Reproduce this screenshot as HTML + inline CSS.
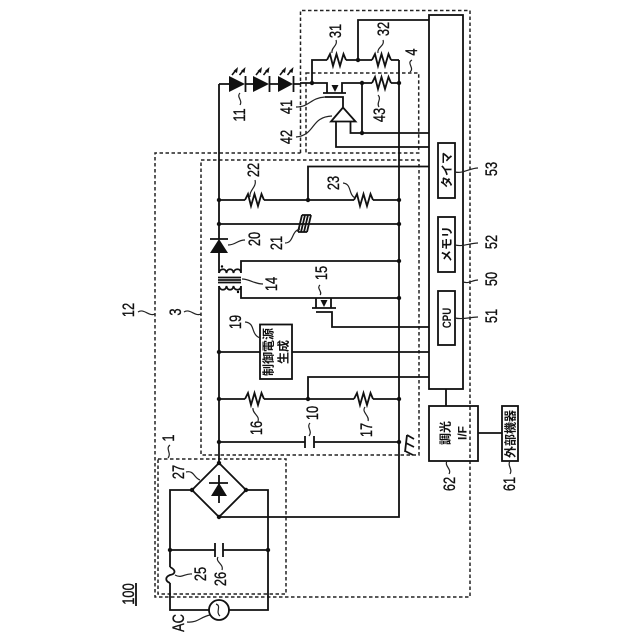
<!DOCTYPE html>
<html><head><meta charset="utf-8"><style>
html,body{margin:0;padding:0;background:#fff}
svg{display:block}
.w{fill:none;stroke:#111;stroke-width:1.8}
.d{fill:none;stroke:#222;stroke-width:1.5;stroke-dasharray:3.5 2.5}
.l{fill:none;stroke:#222;stroke-width:1.2}
text{font-family:"Liberation Sans","Noto Sans CJK JP",sans-serif;fill:#111;text-anchor:middle}
.n text{font-size:16.5px;stroke:#111;stroke-width:.35}
.j{font-size:12px;font-weight:bold}
</style></head><body>
<svg width="640" height="640" viewBox="0 0 640 640" xmlns="http://www.w3.org/2000/svg">
<defs>
<polyline id="r" class="w" points="0,0 3,-6 6,6 9.5,-6 13,6 16.5,-6 19,0"/>
<g id="ar"><path d="M0,0 L4,-5 M7.500,0 L11.500,-5" stroke="#111" stroke-width="1.6"/><path d="M6,-8 L1.500,-4 L5,-2Z M13.500,-8 L9,-4 L12.500,-2Z" fill="#111"/></g>
</defs>
<rect width="640" height="640" fill="#fff"/>
<!-- dashed -->
<path class="d" d="M300.5,153 V10.5 H470 V597 H155 V153 H300.5"/>
<rect class="d" x="306" y="73" width="112.7" height="80"/>
<rect class="d" x="201" y="160" width="218" height="295"/>
<rect class="d" x="158" y="459" width="128" height="135"/>
<!-- main wires -->
<path class="w" d="M219,84 V239 M219,253 V273"/>
<path class="w" d="M219,84 H229 M245,84 H253 M269,84 H278 M293,84 H300 M300,83 H327 V93 M342,93 V83 H372 M391,83 H399"/>
<path class="w" d="M399,60 V517 H219"/>
<path class="w" d="M219,286 V462"/>
<!-- LEDs -->
<path d="M229,76 L245,84 L229,92Z M253,76 L269,84 L253,92Z M278,76 L293,84 L278,92Z" fill="#111"/>
<path class="w" d="M245.5,76 V92 M269.5,76 V92 M293.5,76 V92"/>
<use href="#ar" x="232" y="75"/><use href="#ar" x="256" y="75"/><use href="#ar" x="280" y="75"/>
<!-- R31 R32 R43 -->
<path class="w" d="M312,83 V60 H327 M346,60 H372 M391,60 H399 M358,60 V20 H429"/>
<use href="#r" x="327" y="60"/><use href="#r" x="372" y="60"/><use href="#r" x="372" y="83"/>
<!-- mosfet 41 -->
<path class="w" d="M323,93 H346 M325,97 H343 V107"/>
<path d="M331.500,85 H338.500 L335,92Z" fill="#111"/>
<!-- amp 42 -->
<path class="w" d="M343,107.5 L331,121.500 H355.500Z"/>
<path class="w" d="M336,122 V147 H429 M350.500,122 V133 H429 M362,83 V133"/>
<!-- row 22/23 -->
<path class="w" d="M219,200 H245 M264,200 H354 M373,200 H399 M308,200 V166.500 H429"/>
<use href="#r" x="245" y="200"/><use href="#r" x="354" y="200"/>
<!-- row 21 -->
<path class="w" d="M219,224 H399"/>
<path class="w" d="M302,215 H311 M298,232 H307 M298,232 L302,215 M301,232 L305,215 M304,232 L308,215 M307,232 L311,215" stroke-width="1.2"/>
<!-- diode 20 -->
<path d="M219,239 L210,253 H228Z" fill="#111"/>
<path class="w" d="M210,239 H228"/>
<!-- transformer -->
<path class="w" d="M219,273 C220,268 226,268 226.500,273 C227,268 233,268 233.500,273 C234,268 241,268 241,273 V261 H399" stroke-width="1.6"/>
<path class="w" d="M218,277.500 H241 M218,280 H241 M218,282.500 H241" stroke-width="1.2"/>
<path class="w" d="M219,286 C220,291 226,291 226.500,286 C227,291 233,291 233.500,286 C234,291 241,291 241,286 V298 H399" stroke-width="1.6"/>
<circle cx="222" cy="266.500" r="1.200"/><circle cx="238" cy="292" r="1.200"/>
<!-- mosfet 15 -->
<path class="w" d="M316,298 V308 M331,298 V308 M312,308 H336 M316,312 H332 V327 H429"/>
<path d="M320.500,300 H327.500 L324,307Z" fill="#111"/>
<!-- box19 row -->
<path class="w" d="M219,352 H260 M292,352 H429"/>
<rect class="w" x="260" y="324.500" width="32" height="54.500"/>
<!-- row 16/17 -->
<path class="w" d="M219,399 H245 M264,399 H354 M373,399 H399 M308,399 V377 H429"/>
<use href="#r" x="245" y="399"/><use href="#r" x="354" y="399"/>
<!-- row cap 10 -->
<path class="w" d="M219,442 H305 M314,442 H399 M305,436 V448 M314,436 V448"/>
<path class="w" d="M407,435 L405,452 M407,435 L414,439 M406,443 L414,447 M405,451 L413,455" stroke-width="1.5"/>
<!-- bridge -->
<path class="w" d="M219,463 L246,490 L219,517 L192,490Z"/>
<path class="w" d="M219,475 V503 M209,483 H228"/>
<path d="M219,483 L211,496 H227Z" fill="#111"/>
<path class="w" d="M192,490 H170 V567 M246,490 H268 V610 H229 M170,583 V610 H209"/>
<path class="w" d="M170,567 C176,570 176,574 170,575 C165,577 165,581 170,583"/>
<path class="w" d="M170,550 H215 M223,550 H268 M215,543 V557 M223,543 V557"/>
<circle class="w" cx="219" cy="610" r="10"/>
<path class="l" d="M216,604 C222,606 215,612 220,616"/>
<!-- CPU block -->
<rect class="w" x="429" y="15" width="34" height="374"/>
<rect class="w" x="438" y="143" width="17" height="55"/>
<rect class="w" x="438" y="217" width="17" height="55"/>
<rect class="w" x="438" y="291" width="17" height="54"/>
<path class="w" d="M446,389 V406 M478,433 H502"/>
<rect class="w" x="429" y="406" width="49" height="55"/>
<rect class="w" x="502" y="406" width="16" height="55"/>
<path class="w" d="M136,583 V606"/>
<!-- nodes -->
<g fill="#111">
<circle cx="312" cy="83" r="2.200"/><circle cx="358" cy="60" r="2.200"/><circle cx="362" cy="83" r="2.200"/><circle cx="399" cy="83" r="2.200"/><circle cx="362" cy="133" r="2.200"/>
<circle cx="219" cy="200" r="2.200"/><circle cx="308" cy="200" r="2.200"/><circle cx="399" cy="200" r="2.200"/><circle cx="219" cy="224" r="2.200"/><circle cx="399" cy="224" r="2.200"/>
<circle cx="399" cy="261" r="2.200"/><circle cx="399" cy="298" r="2.200"/><circle cx="219" cy="352" r="2.200"/>
<circle cx="219" cy="399" r="2.200"/><circle cx="308" cy="399" r="2.200"/><circle cx="399" cy="399" r="2.200"/><circle cx="219" cy="442" r="2.200"/><circle cx="399" cy="442" r="2.200"/>
<circle cx="219" cy="463" r="2.200"/><circle cx="192" cy="490" r="2.200"/><circle cx="246" cy="490" r="2.200"/><circle cx="219" cy="517" r="2.200"/><circle cx="170" cy="550" r="2.200"/><circle cx="268" cy="550" r="2.200"/>
</g>
<!-- leaders -->
<path class="l" d="M336,40 C338,46 331,47 332,53 M383,40 C385,46 377,47 378,53 M412,60 C406,63 415,68 410,72 M240,93 C236,97 243,100 240,105 M296,107 C310,107 310,98 325,97 M296,137 C316,135 310,117 332,116 M378,95 C382,99 376,103 379,107"/>
<path class="l" d="M255,180 C257,187 249,190 250,197 M343,183 C352,184 348,194 355,198 M285,243 C294,243 291,231 300,229 M228,245 C236,245 237,240 245,240 M242,279 C250,279 254,284 263,284 M320,285 C316,288 323,292 320,295 M245,322 C256,323 250,334 260,338 M253,408 C252,413 260,416 258,421 M310,423 C306,427 313,431 309,436 M365,407 C361,412 370,416 368,421"/>
<path class="l" d="M455,172 C463,174 470,168 478,168 M455,245 C463,247 470,243 478,243 M463,282 C470,284 472,280 478,280 M455,318 C463,320 470,317 478,317 M447,461 C444,466 452,469 449,474 M510,461 C507,466 513,469 510,474"/>
<path class="l" d="M186,472 C194,470 194,478 200,480 M175,575 C182,579 185,573 192,574 M218,557 C215,562 224,564 222,570 M187,622 C198,623 200,617 210,615 M170,445 C165,449 172,453 168,458 M138,312 C144,308 149,317 155,314 M184,312 C190,308 195,317 201,314"/>
<!-- numbers -->
<g class="n">
<text transform="translate(335,31) rotate(-90) scale(.78,1)" dy=".36em">31</text>
<text transform="translate(383,29) rotate(-90) scale(.78,1)" dy=".36em">32</text>
<text transform="translate(411,52) rotate(-90) scale(.78,1)" dy=".36em">4</text>
<text transform="translate(239,115) rotate(-90) scale(.78,1)" dy=".36em">11</text>
<text transform="translate(286,107) rotate(-90) scale(.78,1)" dy=".36em">41</text>
<text transform="translate(286,137) rotate(-90) scale(.78,1)" dy=".36em">42</text>
<text transform="translate(379,115) rotate(-90) scale(.78,1)" dy=".36em">43</text>
<text transform="translate(253,170) rotate(-90) scale(.78,1)" dy=".36em">22</text>
<text transform="translate(333,183) rotate(-90) scale(.78,1)" dy=".36em">23</text>
<text transform="translate(276,243) rotate(-90) scale(.78,1)" dy=".36em">21</text>
<text transform="translate(254,239) rotate(-90) scale(.78,1)" dy=".36em">20</text>
<text transform="translate(271,284) rotate(-90) scale(.78,1)" dy=".36em">14</text>
<text transform="translate(321,273) rotate(-90) scale(.78,1)" dy=".36em">15</text>
<text transform="translate(235,322) rotate(-90) scale(.78,1)" dy=".36em">19</text>
<text transform="translate(256,428) rotate(-90) scale(.78,1)" dy=".36em">16</text>
<text transform="translate(312,413) rotate(-90) scale(.78,1)" dy=".36em">10</text>
<text transform="translate(366,430) rotate(-90) scale(.78,1)" dy=".36em">17</text>
<text transform="translate(491,169) rotate(-90) scale(.78,1)" dy=".36em">53</text>
<text transform="translate(491,242) rotate(-90) scale(.78,1)" dy=".36em">52</text>
<text transform="translate(491,279) rotate(-90) scale(.78,1)" dy=".36em">50</text>
<text transform="translate(491,316) rotate(-90) scale(.78,1)" dy=".36em">51</text>
<text transform="translate(449,484) rotate(-90) scale(.78,1)" dy=".36em">62</text>
<text transform="translate(509,484) rotate(-90) scale(.78,1)" dy=".36em">61</text>
<text transform="translate(178,472) rotate(-90) scale(.78,1)" dy=".36em">27</text>
<text transform="translate(200,574) rotate(-90) scale(.78,1)" dy=".36em">25</text>
<text transform="translate(220,579) rotate(-90) scale(.78,1)" dy=".36em">26</text>
<text transform="translate(128,594) rotate(-90) scale(.78,1)" dy=".36em">100</text>
<text transform="translate(178,623) rotate(-90) scale(.78,1)" dy=".36em">AC</text>
<text transform="translate(168,438) rotate(-90) scale(.78,1)" dy=".36em">1</text>
<text transform="translate(128,310) rotate(-90) scale(.78,1)" dy=".36em">12</text>
<text transform="translate(175,312) rotate(-90) scale(.78,1)" dy=".36em">3</text>
</g>
<!-- labels -->
<g class="j">
<text transform="translate(446.500,170) rotate(-90)" dy=".36em">タイマ</text>
<text transform="translate(446.500,244) rotate(-90)" dy=".36em">メモリ</text>
<text transform="translate(446.500,318) rotate(-90) scale(.8,1)" dy=".36em">CPU</text>
<text transform="translate(268,352) rotate(-90)" dy=".36em">制御電源</text>
<text transform="translate(283,352) rotate(-90)" dy=".36em">生成</text>
<text transform="translate(445,433) rotate(-90)" dy=".36em">調光</text>
<text transform="translate(462,433) rotate(-90)" dy=".36em">I/F</text>
<text transform="translate(510,434) rotate(-90)" dy=".36em">外部機器</text>
</g>
</svg>
</body></html>
